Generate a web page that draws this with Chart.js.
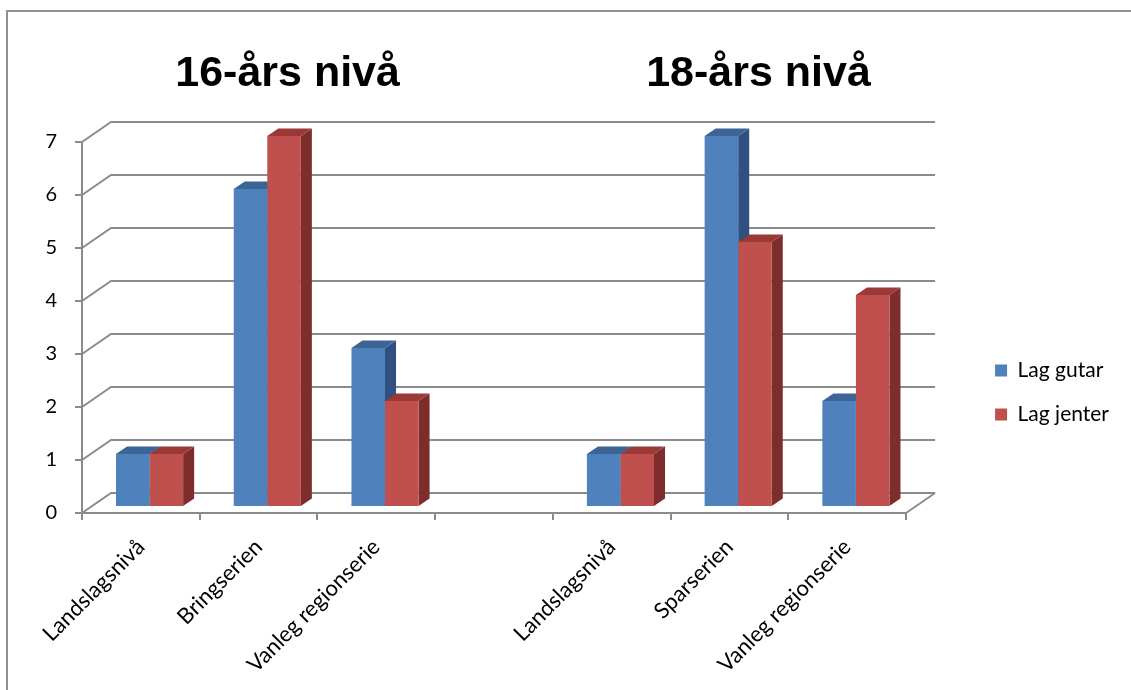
<!DOCTYPE html>
<html>
<head>
<meta charset="utf-8">
<script src="https://cdn.jsdelivr.net/npm/chart.js@4.4.0/dist/chart.umd.min.js"></script>
<style>
  html, body { margin: 0; padding: 0; background: #ffffff; }
  canvas { display: block; }
</style>
</head>
<body>
<canvas id="chart" width="1131" height="690"></canvas>
<script>
// Categories: two groups of three series levels with an empty slot between them
const categories = ['Landslagsnivå', 'Bringserien', 'Vanleg regionserie', '', 'Landslagsnivå', 'Sparserien', 'Vanleg regionserie'];
const lagGutar = [1, 6, 3, null, 1, 7, 2];
const lagJenter = [1, 7, 2, null, 1, 5, 4];
const seriesNames = ['Lag gutar', 'Lag jenter'];
const groupTitles = ['16-års nivå', '18-års nivå'];
const groupTitleSlot = [1, 5];
const yTickValues = [0, 1, 2, 3, 4, 5, 6, 7];

const gridColor = '#8b8b8b';
const frontColors = ['#4F81BD', '#C0504D'];
const topColors = ['#3C6595', '#9A3936'];
const sideColors = ['#2F5080', '#7D2E2C'];

// Pseudo-3D depth of the plot box and of the columns inside it
const depth = { dx: 29, dy: -20, front: 0.3, thick: 0.38 };

function quad(ctx, pts, fill) {
  ctx.beginPath();
  ctx.moveTo(pts[0][0], pts[0][1]);
  for (let i = 1; i < pts.length; i++) ctx.lineTo(pts[i][0], pts[i][1]);
  ctx.closePath();
  ctx.fillStyle = fill;
  ctx.fill();
}

const depthPlugin = {
  id: 'depth3d',
  beforeDraw(chart) {
    const ctx = chart.ctx;
    ctx.save();
    ctx.fillStyle = '#ffffff';
    ctx.fillRect(0, 0, chart.width, chart.height);
    // outer frame
    ctx.strokeStyle = '#8e8e8e';
    ctx.lineWidth = 2;
    ctx.beginPath();
    ctx.moveTo(7, chart.height);
    ctx.lineTo(7, 11);
    ctx.lineTo(chart.width, 11);
    ctx.stroke();
    ctx.restore();
  },
  beforeDatasetsDraw(chart) {
    const { ctx, chartArea: a, scales: { x, y } } = chart;
    ctx.save();
    // back wall gridlines and side-wall diagonals
    ctx.strokeStyle = gridColor;
    ctx.lineWidth = 2;
    y.ticks.forEach(t => {
      const py = y.getPixelForValue(t.value);
      ctx.beginPath();
      ctx.moveTo(a.left, py);
      ctx.lineTo(a.left + depth.dx, py + depth.dy);
      ctx.lineTo(a.right + depth.dx, py + depth.dy);
      ctx.stroke();
    });
    const p0 = y.getPixelForValue(0);
    ctx.beginPath();
    ctx.moveTo(a.right, p0);
    ctx.lineTo(a.right + depth.dx, p0 + depth.dy);
    ctx.stroke();

    // group titles above the plot
    ctx.fillStyle = '#000000';
    ctx.font = 'bold 43px "Liberation Sans", Arial, sans-serif';
    ctx.textAlign = 'center';
    ctx.textBaseline = 'alphabetic';
    groupTitles.forEach((title, k) => {
      ctx.fillText(title, x.getPixelForValue(groupTitleSlot[k]) + depth.dx, 86);
    });

    // top and side faces of the columns; front faces are drawn by Chart.js
    const fx = depth.dx * depth.front, fy = depth.dy * depth.front;
    const bx = depth.dx * depth.thick, by = depth.dy * depth.thick;
    ctx.translate(fx, fy);
    chart.data.datasets.forEach((ds, i) => {
      const meta = chart.getDatasetMeta(i);
      meta.data.forEach((bar, j) => {
        if (ds.data[j] == null) return;
        const p = bar.getProps(['x', 'y', 'base', 'width'], true);
        const x0 = p.x - p.width / 2, x1 = p.x + p.width / 2;
        quad(ctx, [[x1, p.y], [x1 + bx, p.y + by], [x1 + bx, p.base + by], [x1, p.base]], sideColors[i]);
        quad(ctx, [[x0, p.y], [x1, p.y], [x1 + bx, p.y + by], [x0 + bx, p.y + by]], topColors[i]);
      });
    });
    // the translation stays active while the front faces are drawn
  },
  afterDatasetsDraw(chart) {
    chart.ctx.restore();
  }
};

Chart.defaults.font.family = 'Lato, "Open Sans", sans-serif';
Chart.defaults.color = '#000000';

const hiddenAxis = {
  display: true,
  grid: { display: false }, border: { display: false }, ticks: { display: false }
};

new Chart(document.getElementById('chart'), {
  type: 'bar',
  data: {
    labels: categories,
    datasets: [
      { label: seriesNames[0], data: lagGutar, backgroundColor: frontColors[0], borderWidth: 0,
        categoryPercentage: 0.57, barPercentage: 1.0, clip: false },
      { label: seriesNames[1], data: lagJenter, backgroundColor: frontColors[1], borderWidth: 0,
        categoryPercentage: 0.57, barPercentage: 1.0, clip: false }
    ]
  },
  options: {
    responsive: false,
    devicePixelRatio: 1,
    animation: false,
    layout: { padding: { left: 0, top: 97, right: 12, bottom: 2 } },
    plugins: {
      tooltip: { enabled: false },
      legend: {
        position: 'right',
        labels: { boxWidth: 12, boxHeight: 12, padding: 23, color: '#000000',
                  font: { family: 'Lato', size: 21 } }
      }
    },
    scales: {
      x: {
        grid: { drawOnChartArea: false, drawTicks: true, tickLength: 7, color: gridColor, lineWidth: 2, offset: true },
        border: { display: true, color: gridColor, width: 2 },
        ticks: { color: '#000000', font: { family: 'Lato', size: 22 }, maxRotation: 45, minRotation: 45,
                 autoSkip: false, padding: 14 },
        afterFit: s => { s.height = 175; }
      },
      xTop: Object.assign({ type: 'category', position: 'top', afterFit: s => { s.height = 45; } }, hiddenAxis),
      y: {
        min: 0, max: 7,
        afterBuildTicks: s => { s.ticks = yTickValues.map(v => ({ value: v })); },
        grid: { drawOnChartArea: false, drawTicks: true, tickLength: 7, color: gridColor, lineWidth: 2 },
        border: { display: true, color: gridColor, width: 2 },
        ticks: { color: '#000000', font: { family: 'Lato', size: 20 }, padding: 18 },
        afterFit: s => { s.width = 82; }
      },
      yRight: Object.assign({ type: 'linear', position: 'right', afterFit: s => { s.width = 66; } }, hiddenAxis)
    }
  },
  plugins: [depthPlugin]
});
</script>
</body>
</html>
